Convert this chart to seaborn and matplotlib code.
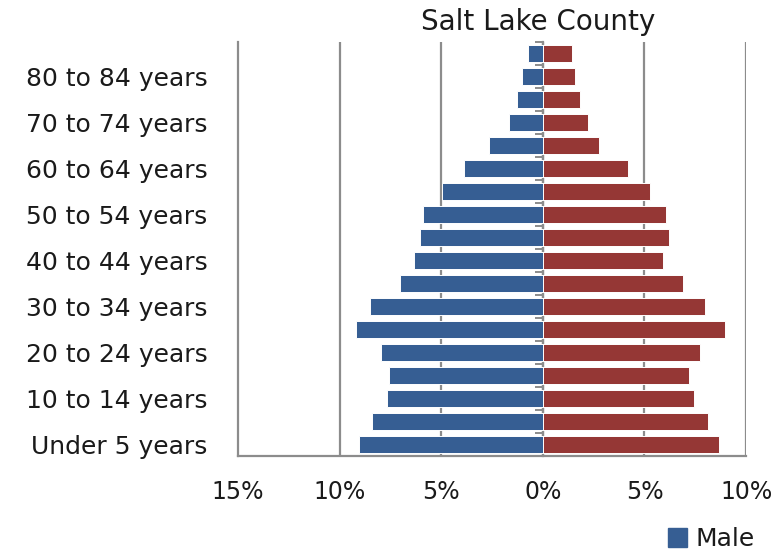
#!/usr/bin/env python3
"""Population pyramid for Salt Lake County."""

import matplotlib
matplotlib.use("Agg")
import matplotlib.pyplot as plt
import pandas as pd
import seaborn as sns

# oldest first so it ends up on top
age_groups = [
    "85 years and over", "80 to 84 years", "75 to 79 years", "70 to 74 years",
    "65 to 69 years", "60 to 64 years", "55 to 59 years", "50 to 54 years",
    "45 to 49 years", "40 to 44 years", "35 to 39 years", "30 to 34 years",
    "25 to 29 years", "20 to 24 years", "15 to 19 years", "10 to 14 years",
    "5 to 9 years", "Under 5 years",
]
male_pct = [0.73, 1.02, 1.29, 1.68, 2.64, 3.88, 4.98, 5.92, 6.07,
            6.32, 7.02, 8.51, 9.20, 7.98, 7.56, 7.69, 8.39, 9.07]
female_pct = [1.42, 1.56, 1.85, 2.24, 2.78, 4.17, 5.25, 6.07, 6.20,
              5.92, 6.88, 7.98, 8.95, 7.71, 7.17, 7.44, 8.14, 8.68]
x_ticks = [-15, -10, -5, 0, 5, 10]
x_ticklabels = ["15%", "10%", "5%", "0%", "5%", "10%"]

BLUE = "#365E93"
RED = "#953735"
GRID = "#8c8c8c"
TEXT = "#1a1a1a"

df = pd.concat([
    pd.DataFrame({"age": age_groups, "pct": [-v for v in male_pct], "sex": "Male"}),
    pd.DataFrame({"age": age_groups, "pct": female_pct, "sex": "Female"}),
])

sns.set_style("white")
plt.rcParams["font.family"] = ["DejaVu Sans"]

fig = plt.figure(figsize=(7.78, 5.53), dpi=100)
ax = fig.add_axes([0.306, 0.175, 0.653, 0.749])

sns.barplot(data=df, x="pct", y="age", hue="sex", order=age_groups,
            palette={"Male": BLUE, "Female": RED}, dodge=False, saturation=1,
            orient="h", width=0.76, edgecolor="white", linewidth=0.7,
            legend=False, ax=ax)

ax.set_xlim(-15, 10)
ax.set_ylim(len(age_groups) - 0.5, -0.5)
ax.set_xticks(x_ticks)
ax.set_xticklabels(x_ticklabels)
ax.set_xlabel("")
ax.set_ylabel("")

# only every other age label, like the original
labels = [a if i % 2 == 1 else "" for i, a in enumerate(age_groups)]
ax.set_yticks(range(len(age_groups)))
ax.set_yticklabels(labels)

for x in x_ticks[1:]:
    ax.axvline(x, color=GRID, lw=1.6, zorder=0)

for side in ["top", "right"]:
    ax.spines[side].set_visible(False)
for side in ["left", "bottom"]:
    ax.spines[side].set_color(GRID)
    ax.spines[side].set_linewidth(1.6)

ax.tick_params(axis="y", length=0, labelsize=18, pad=22, colors=TEXT)
ax.tick_params(axis="x", length=6, width=1.6, color=GRID, direction="out",
               labelsize=17, pad=11, labelcolor=TEXT)

# small category tick marks on the zero axis, pointing left
sec = ax.secondary_yaxis(15 / 25)
sec.set_yticks([i - 0.5 for i in range(len(age_groups) + 1)])
sec.set_yticklabels([])
sec.yaxis.set_ticks_position("left")
sec.tick_params(length=6, width=1.4, color=GRID, direction="out")
for sp in sec.spines.values():
    sp.set_color(GRID)
    sp.set_linewidth(1.6)

fig.text(0.692, 0.961, "Salt Lake County", ha="center", va="center",
         fontsize=20, color=TEXT)

handle = plt.Rectangle((0, 0), 1, 1, color=BLUE)
fig.legend([handle], ["Male"], loc="center left", bbox_to_anchor=(0.859, 0.025),
           frameon=False, fontsize=18, handlelength=0.75, handleheight=0.75,
           handletextpad=0.35, borderaxespad=0, borderpad=0, labelcolor=TEXT)

fig.savefig("out.png", dpi=100)
